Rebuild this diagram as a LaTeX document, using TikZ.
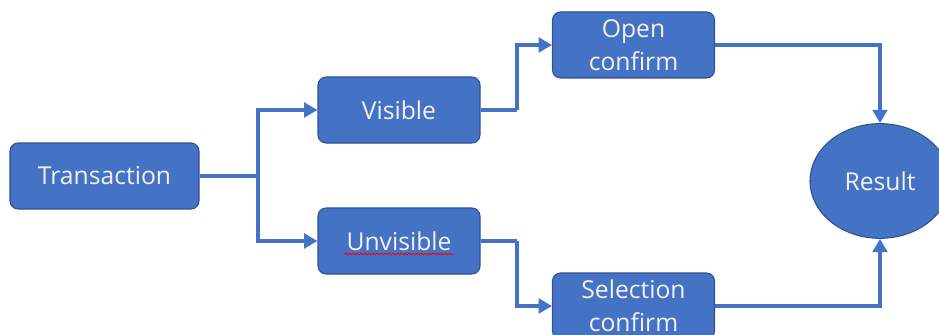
\documentclass[tikz,border=0pt]{standalone}
\usepackage{fontspec}
\setmainfont{Open Sans}
\usepackage{tikz}
\usetikzlibrary{arrows.meta,shapes,decorations.pathmorphing}
\usepackage{xcolor}
\definecolor{boxblue}{HTML}{4472C4}
\definecolor{boxline}{HTML}{2F528F}
\definecolor{textwhite}{HTML}{F2F2F2}

\begin{document}
\begin{tikzpicture}[x=0.75pt, y=-0.75pt, box node/.style={rectangle, rounded corners=6pt, draw=boxline, line width=0.8pt, fill=boxblue, text=textwhite, minimum width=121.5pt, minimum height=49.5pt, align=center, inner sep=0pt, font=\fontsize{18.5}{25}\selectfont}, end node/.style={ellipse, draw=boxline, line width=0.8pt, fill=boxblue, text=textwhite, minimum width=105pt, minimum height=86pt, inner sep=0pt, font=\fontsize{18.5}{25}\selectfont}, link/.style={draw=boxblue, line width=3pt}, flow/.style={link, -{Triangle[length=10pt,width=11pt]}}]
\useasboundingbox (0,0) rectangle (939,335);
\node[box node, minimum width=141.75pt] (1) at (104.5,176) {Transaction};
\node[box node] (2) at (399,110) {Visible};
\node[box node] (3) at (399,241) {Unvisible};
\node[box node] (4) at (633.5,45) {Open\\confirm};
\node[box node] (5) at (633.5,306) {Selection\\confirm};
\node[end node] (6) at (880,181) {Result};
\coordinate (a) at (258,176);
\coordinate (b) at (517,110);
\coordinate (c) at (517,241);
% spell check mark under Unvisible
\draw[red, line width=0.6pt, decorate, decoration={snake, amplitude=0.7pt, segment length=3pt}] (344,254) -- (453,254);
\path[link] (1) -- (a);
\path[flow] (a) |- (2);
\path[flow] (a) |- (3);
\path[link] (2) -- (b);
\path[flow] (b) |- (4);
\path[link] (3) -- (c);
\path[flow] (c) |- (5);
\path[flow] (4) -| (6);
\path[flow] (5) -| (6);
\end{tikzpicture}
\end{document}
